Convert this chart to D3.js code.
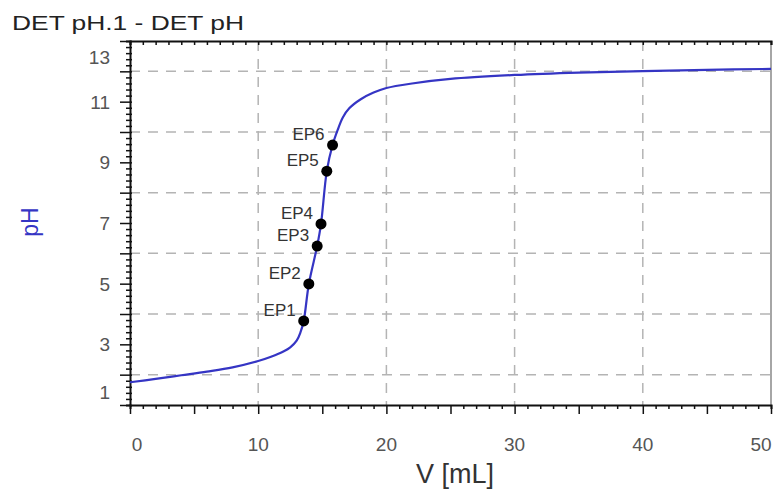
<!DOCTYPE html>
<html>
<head>
<meta charset="utf-8">
<script src="https://cdn.jsdelivr.net/npm/d3@7"></script>
<style>
  html, body { margin: 0; padding: 0; background: #fff; }
  svg { display: block; font-family: "Liberation Sans", Arial, sans-serif; }
</style>
</head>
<body>
<svg id="chart" width="776" height="492"></svg>
<script>
// ---- data ----
const curveV  = [0, 2, 4, 6, 8, 10, 11, 12, 12.5, 13, 13.3, 13.55, 13.95, 14.6, 14.9, 15.35, 15.8, 16.2, 16.6, 17.1, 18, 19, 20, 22, 25, 30, 35, 40, 45, 50];
const curvePH = [1.75, 1.86, 1.98, 2.1, 2.24, 2.45, 2.59, 2.77, 2.9, 3.12, 3.4, 3.77, 4.99, 6.24, 6.97, 8.71, 9.57, 10.07, 10.48, 10.78, 11.08, 11.3, 11.45, 11.6, 11.75, 11.88, 11.96, 12.01, 12.05, 12.08];
const epLabels = ["EP1", "EP2", "EP3", "EP4", "EP5", "EP6"];
const epV  = [13.55, 13.95, 14.6, 14.9, 15.35, 15.8];
const epPH = [3.77, 4.99, 6.24, 6.97, 8.71, 9.57];
const xTickLabels = [0, 10, 20, 30, 40, 50];
const yTickLabels = [1, 3, 5, 7, 9, 11, 13];
const yGrid = [2, 4, 6, 8, 10, 12];
const xGrid = [10, 20, 30, 40];
const titleText = "DET pH.1 - DET pH";
const xLabel = "V [mL]";
const yLabel = "pH";

// ---- layout ----
const svg = d3.select("#chart");
const L = 130, R = 771, T = 41, B = 405;
const x = d3.scaleLinear().domain([0, 50]).range([L, R]);
const y = d3.scaleLinear().domain([1, 13]).range([B, T]);
const gridColor = "#b4b4b4";

// grid
svg.append("g").selectAll("line").data(yGrid).join("line")
  .attr("x1", L).attr("x2", R).attr("y1", d => y(d)).attr("y2", d => y(d))
  .attr("stroke", gridColor).attr("stroke-width", 1.5).attr("stroke-dasharray", "10,8");
svg.append("g").selectAll("line").data(xGrid).join("line")
  .attr("y1", T).attr("y2", B).attr("x1", d => x(d)).attr("x2", d => x(d))
  .attr("stroke", gridColor).attr("stroke-width", 1.5).attr("stroke-dasharray", "10,8");

// right spine (gray)
svg.append("line").attr("x1", R).attr("x2", R).attr("y1", T).attr("y2", B)
  .attr("stroke", "#888").attr("stroke-width", 1.5);

// bottom axis: minor ticks every 1, major every 5
const xMinor = d3.range(0, 51, 1);
const xAxis = d3.axisBottom(x).tickValues(xMinor).tickSize(4).tickFormat("");
const gx = svg.append("g").attr("transform", `translate(0,${B})`).call(xAxis);
gx.selectAll(".tick line").attr("stroke", "#111").attr("stroke-width", 1.5)
  .attr("y2", d => d % 5 === 0 ? 9 : 4);
gx.select(".domain").attr("stroke", "#111").attr("stroke-width", 2);

// top axis ticks (inward)
const gt = svg.append("g").attr("transform", `translate(0,${T})`)
  .call(d3.axisTop(x).tickValues(xMinor).tickSize(-4).tickFormat(""));
gt.selectAll(".tick line").attr("stroke", "#111").attr("stroke-width", 1.5);
gt.select(".domain").attr("stroke", "#111").attr("stroke-width", 2);

// left axis: minor ticks 0.2, major every 1
const yMinor = d3.range(1, 13.001, 0.2).map(v => Math.round(v * 10) / 10);
const gy = svg.append("g").attr("transform", `translate(${L},0)`)
  .call(d3.axisLeft(y).tickValues(yMinor).tickSize(4).tickFormat(""));
gy.selectAll(".tick line").attr("stroke", "#111").attr("stroke-width", 1.5)
  .attr("x1", 2)
  .attr("x2", d => Math.abs(d - Math.round(d)) < 1e-6 ? -10 : -4);
gy.select(".domain").attr("stroke", "#111").attr("stroke-width", 2);

// x tick labels
svg.append("g").selectAll("text").data(xTickLabels).join("text")
  .attr("x", d => Math.min(Math.max(x(d), L + 7), R - 10))
  .attr("y", 451)
  .attr("text-anchor", "middle")
  .attr("font-size", 19).attr("fill", "#555")
  .text(d => d);

// y tick labels
svg.append("g").selectAll("text").data(yTickLabels).join("text")
  .attr("x", 110)
  .attr("y", d => Math.min(Math.max(y(d), T + 16), B - 13))
  .attr("dy", "0.36em")
  .attr("text-anchor", "end")
  .attr("font-size", 19).attr("fill", "#555")
  .text(d => d);

// curve
const pts = curveV.map((v, i) => [v, curvePH[i]]);
const line = d3.line().x(d => x(d[0])).y(d => y(d[1])).curve(d3.curveCatmullRom.alpha(0.5));
svg.append("path").datum(pts)
  .attr("d", line).attr("fill", "none")
  .attr("stroke", "#3535c4").attr("stroke-width", 2.2);

// end points
const eps = epV.map((v, i) => ({ v, ph: epPH[i], label: epLabels[i] }));
svg.append("g").selectAll("circle").data(eps).join("circle")
  .attr("cx", d => x(d.v)).attr("cy", d => y(d.ph)).attr("r", 5.5).attr("fill", "#000");
svg.append("g").selectAll("text").data(eps).join("text")
  .attr("x", d => x(d.v) - 8).attr("y", d => y(d.ph) - 11)
  .attr("dy", "0.36em")
  .attr("text-anchor", "end").attr("font-size", 17).attr("fill", "#333")
  .text(d => d.label);

// title
svg.append("text").attr("x", 12).attr("y", 30)
  .attr("font-size", 21).attr("fill", "#222")
  .attr("textLength", 232).attr("lengthAdjust", "spacingAndGlyphs")
  .text(titleText);

// axis titles
svg.append("text").attr("x", 455).attr("y", 483)
  .attr("text-anchor", "middle").attr("font-size", 27).attr("fill", "#333")
  .text(xLabel);
svg.append("text").attr("transform", "translate(38,222) rotate(-90)")
  .attr("text-anchor", "middle").attr("font-size", 23).attr("fill", "#3535c4")
  .text(yLabel);
</script>
</body>
</html>
